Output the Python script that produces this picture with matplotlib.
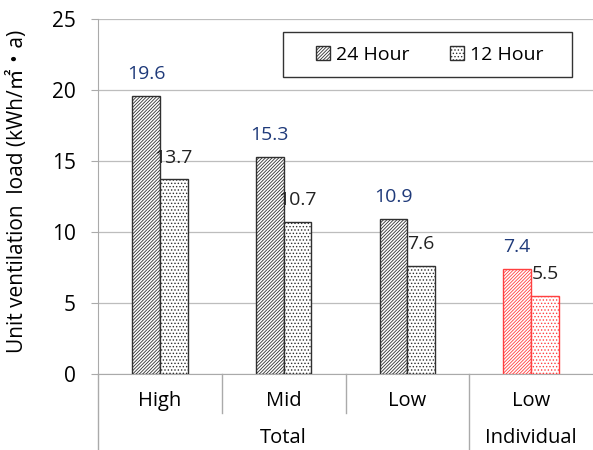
import matplotlib
matplotlib.use("Agg")
import matplotlib.pyplot as plt
from matplotlib.patches import Rectangle
import numpy as np

categories = ["High", "Mid", "Low", "Low"]
groups = ["Total", "Individual"]
group_spans = [(0, 2), (3, 3)]
hour24 = [19.6, 15.3, 10.9, 7.4]
hour12 = [13.7, 10.7, 7.6, 5.5]
highlight = [False, False, False, True]

plt.rcParams["font.family"] = ["Open Sans", "DejaVu Sans"]
plt.rcParams["hatch.linewidth"] = 0.6

fig = plt.figure(figsize=(5.93, 4.5), dpi=100)
ax = fig.add_axes([98 / 593, 76 / 450, 495 / 593, 355 / 450])

x = np.arange(len(categories))
w = 0.225
for i in range(len(categories)):
    edge = "#ff4040" if highlight[i] else "#303030"
    ax.bar(x[i] - w / 2, hour24[i], w, color="white", edgecolor=edge,
           hatch="//////////", linewidth=1.0, zorder=3,
           label="24 Hour" if i == 0 else None)
    ax.bar(x[i] + w / 2, hour12[i], w, color="white", edgecolor=edge,
           hatch=".....", linewidth=1.0, zorder=3,
           label="12 Hour" if i == 0 else None)
    ax.text(x[i] - w / 2, hour24[i] + 0.9, f"{hour24[i]:.1f}", ha="center",
            va="bottom", fontsize=14, color="#1f3a7a", zorder=5)
    ax.text(x[i] + w / 2, hour12[i] + 0.9, f"{hour12[i]:.1f}",
            ha="center", va="bottom", fontsize=14, color="#222222", zorder=5)

ax.set_xlim(-0.5, len(categories) - 0.5)
ax.set_ylim(0, 25)
ax.set_yticks(np.arange(0, 26, 5))
ax.tick_params(axis="y", labelsize=15, length=5, color="#aaaaaa", pad=11)
ax.tick_params(axis="x", length=0, labelsize=14.5, pad=12)
ax.set_xticks(x)
ax.set_xticklabels(categories)
ax.grid(axis="y", color="#bdbdbd", linewidth=0.9, zorder=0)
for s in ["top", "right"]:
    ax.spines[s].set_visible(False)
ax.spines["left"].set_color("#aaaaaa")
ax.spines["bottom"].set_color("#aaaaaa")
ax.spines["left"].set_bounds(0, 25)

ax.set_ylabel("Unit ventilation  load (kWh/\u33a1\u30fba)", fontsize=15,
              family=["Open Sans", "Noto Sans CJK JP", "DejaVu Sans"])
ax.yaxis.set_label_coords(-0.141, 0.515)

trans = ax.get_xaxis_transform()
# left axis extension and separators below the axis
ax.plot([-0.5, -0.5], [0, -0.22], transform=trans, color="#aaaaaa",
        lw=1.0, clip_on=False)
for b in [0.5, 1.5]:
    ax.plot([b, b], [0, -0.11], transform=trans, color="#aaaaaa",
            lw=1.0, clip_on=False)
ax.plot([2.5, 2.5], [0, -0.22], transform=trans, color="#aaaaaa",
        lw=1.0, clip_on=False)
for g, (a, b) in zip(groups, group_spans):
    ax.text((a + b) / 2, -0.18, g, transform=trans, ha="center",
            va="center", fontsize=14.5)

# legend box drawn separately so the padding can be wide
ax.add_patch(Rectangle((0.374, 0.837), 0.584, 0.126, transform=ax.transAxes,
                       facecolor="white", edgecolor="#333333", lw=1.0,
                       zorder=6))
leg = ax.legend(loc="center", bbox_to_anchor=(0.670, 0.900), ncol=2,
                fontsize=14, frameon=False,
                handlelength=0.7, handleheight=0.7, handletextpad=0.3,
                columnspacing=2.1, borderpad=0.0, borderaxespad=0)
leg.set_zorder(7)

fig.savefig("out.png", dpi=100)
